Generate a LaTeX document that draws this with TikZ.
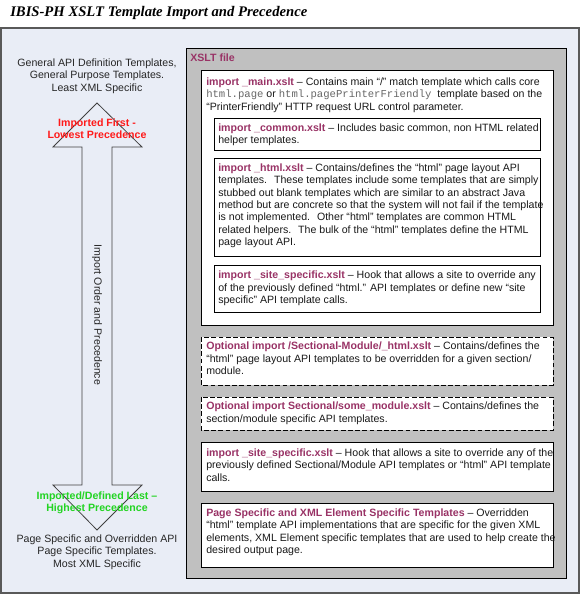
\documentclass[tikz,border=0pt]{standalone}
\usepackage{fontspec}
\setmainfont{Liberation Sans}
\newfontfamily\titlefont{Liberation Serif}
\newfontfamily\codefont{Liberation Mono}
\definecolor{bgblue}{HTML}{E9EDF6}
\definecolor{filegray}{HTML}{C0C0C0}
\definecolor{fileclr}{HTML}{993366}
\definecolor{firstred}{HTML}{FF1A1A}
\definecolor{lastgreen}{HTML}{22D422}
\definecolor{codegray}{HTML}{666666}
\newcommand\fname[1]{\textbf{\textcolor{fileclr}{#1}}}
\newcommand\code[1]{{\codefont\textcolor{codegray}{#1}}}
\tikzset{
  pagebox/.style={fill=bgblue,draw=black!65,line width=0.9pt},
  filebox/.style={fill=filegray,draw=black,line width=0.6pt},
  descbox/.style={fill=white,draw=black,line width=0.6pt},
  optbox/.style={descbox,dash pattern=on 3.6pt off 1.8pt},
  desc/.style={anchor=north west,inner sep=0pt,align=left,
    font=\fontsize{7.95pt}{9.25pt}\selectfont,text=black!90},
  side/.style={inner sep=0pt,align=center,
    font=\fontsize{7.95pt}{9.25pt}\selectfont,text=black!85},
  prec/.style={side,font=\fontsize{7.95pt}{9.25pt}\selectfont\bfseries},
}
\begin{document}
\begin{tikzpicture}[x=0.75pt,y=-0.75pt]
\useasboundingbox (0,0) rectangle (581,596);
% title
\node[anchor=west,inner sep=0pt,font=\titlefont\fontsize{11pt}{12pt}\selectfont\bfseries\itshape]
  (title) at (10,13) {IBIS-PH XSLT Template Import and Precedence};
% page background
\draw[pagebox] (1,28) rectangle (579,593);
% left side: order arrow
\draw[draw=black!75,line width=0.6pt]
  (97,103) -- (142,147) -- (112,147) -- (112,485) -- (142,485)
  -- (97,530) -- (53,485) -- (82,485) -- (82,147) -- (53,147) -- cycle;
\node[side] (least) at (97,76) {General API Definition Templates,\\
  General Purpose Templates.\\Least XML Specific};
\node[prec,text=firstred] (first) at (97,129) {Imported First -\\Lowest Precedence};
\node[side,rotate=-90] (order) at (97,315) {Import Order and Precedence};
\node[prec,text=lastgreen] (last) at (97,503) {Imported/Defined Last –\\Highest Precedence};
\node[side] (most) at (97,552) {Page Specific and Overridden API\\
  Page Specific Templates.\\Most XML Specific};
% XSLT file
\draw[filebox] (186,48) rectangle (566,578);
\node[anchor=west,inner sep=0pt,font=\fontsize{7.95pt}{9.25pt}\selectfont\bfseries,text=fileclr]
  (xslt) at (190,58) {XSLT file};
\draw[descbox] (201,70) rectangle (553,325);
\node[desc] (mainTxt) at (206,77.7) {\fname{import \_main.xslt} – Contains main “/” match template which calls core\\
  \code{html.page} or \code{html.pagePrinterFriendly} \ template based on the\\
  “PrinterFriendly” HTTP request URL control parameter.};
\draw[descbox] (214,118) rectangle (540,150);
\node[desc] (commonTxt) at (218,123.3) {\fname{import \_common.xslt} – Includes basic common, non HTML related\\
  helper templates.};
\draw[descbox] (214,158) rectangle (540,256);
\node[desc] (htmlTxt) at (218,163.7) {\fname{import \_html.xslt} – Contains/defines the “html” page layout API\\
  templates. \ These templates include some templates that are simply\\
  stubbed out blank templates which are similar to an abstract Java\\
  method but are concrete so that the system will not fail if the template\\
  is not implemented. \ Other “html” templates are common HTML\\
  related helpers. \ The bulk of the “html” templates define the HTML\\
  page layout API.};
\draw[descbox] (214,265) rectangle (540,312);
\node[desc] (siteTxt) at (218,271) {\fname{import \_site\_specific.xslt} – Hook that allows a site to override any\\
  of the previously defined “html.” API templates or define new “site\\
  specific” API template calls.};
\draw[optbox] (201,337) rectangle (553,385);
\node[desc] (sectionTxt) at (206,342) {\fname{Optional import /Sectional-Module/\_html.xslt} – Contains/defines the\\
  “html” page layout API templates to be overridden for a given section/\\
  module.};
\draw[optbox] (201,397) rectangle (553,430);
\node[desc] (moduleTxt) at (206,402) {\fname{Optional import Sectional/some\_module.xslt} – Contains/defines the\\
  section/module specific API templates.};
\draw[descbox] (201,442) rectangle (553,491);
\node[desc] (siteTxtB) at (206,448.7) {\fname{import \_site\_specific.xslt} – Hook that allows a site to override any of the\\
  previously defined Sectional/Module API templates or “html” API template\\
  calls.};
\draw[descbox] (201,503) rectangle (553,567);
\node[desc] (pageTxt) at (206,508.7) {\fname{Page Specific and XML Element Specific Templates} – Overridden\\
  “html” template API implementations that are specific for the given XML\\
  elements, XML Element specific templates that are used to help create the\\
  desired output page.};
\end{tikzpicture}
\end{document}
